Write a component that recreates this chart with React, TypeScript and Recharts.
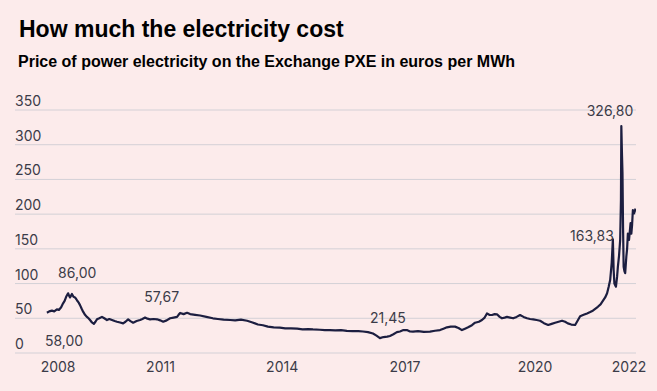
import { LineChart, Line, XAxis, YAxis, CartesianGrid, LabelList } from 'recharts'

// decimal year positions along the time axis and the price (EUR/MWh)
const dates = [
  2007.66, 2007.72, 2007.79, 2007.85, 2007.92, 2007.97, 2008.03, 2008.08, 2008.12, 2008.16,
  2008.21, 2008.24, 2008.26, 2008.29, 2008.31, 2008.35, 2008.39, 2008.44, 2008.48, 2008.52,
  2008.56, 2008.6, 2008.65, 2008.7, 2008.74, 2008.78, 2008.83, 2008.88, 2008.92, 2008.96,
  2009.02, 2009.09, 2009.15, 2009.22, 2009.28, 2009.35, 2009.42, 2009.48, 2009.56, 2009.64,
  2009.7, 2009.77, 2009.83, 2009.9, 2009.99, 2010.08, 2010.14, 2010.21, 2010.27, 2010.34,
  2010.43, 2010.52, 2010.6, 2010.68, 2010.77, 2010.86, 2010.95, 2011.04, 2011.08, 2011.12,
  2011.21, 2011.3, 2011.38, 2011.51, 2011.64, 2011.8, 2011.97, 2012.1, 2012.25, 2012.42,
  2012.55, 2012.7, 2012.86, 2013.0, 2013.14, 2013.27, 2013.4, 2013.55, 2013.71, 2013.85,
  2014.0, 2014.16, 2014.3, 2014.45, 2014.57, 2014.75, 2014.88, 2015.01, 2015.15, 2015.3,
  2015.45, 2015.6, 2015.75, 2015.87, 2016.0, 2016.13, 2016.22, 2016.31, 2016.4, 2016.5,
  2016.57, 2016.66, 2016.75, 2016.83, 2016.92, 2017.01, 2017.09, 2017.17, 2017.3, 2017.45,
  2017.61, 2017.74, 2017.87, 2017.96, 2018.05, 2018.15, 2018.26, 2018.35, 2018.44, 2018.52,
  2018.6, 2018.7, 2018.78, 2018.88, 2018.96, 2019.03, 2019.09, 2019.15, 2019.22, 2019.29,
  2019.35, 2019.42, 2019.48, 2019.55, 2019.61, 2019.69, 2019.77, 2019.86, 2019.95, 2020.04,
  2020.13, 2020.21, 2020.29, 2020.38, 2020.47, 2020.57, 2020.68, 2020.77, 2020.86, 2020.95,
  2021.04, 2021.12, 2021.19, 2021.28, 2021.38, 2021.44, 2021.51, 2021.6, 2021.69, 2021.77,
  2021.84, 2021.91, 2021.97, 2022.04, 2022.1, 2022.16, 2022.21, 2022.25, 2022.29, 2022.33,
  2022.36, 2022.38, 2022.4, 2022.44, 2022.47, 2022.49, 2022.52, 2022.55, 2022.57, 2022.58,
  2022.595, 2022.61, 2022.625, 2022.64, 2022.66, 2022.68, 2022.71, 2022.73, 2022.75, 2022.78,
  2022.8, 2022.82, 2022.84, 2022.86, 2022.88, 2022.91, 2022.95,
]

const prices = [
  58, 60, 61, 60, 63, 62, 66, 71.5, 75, 81,
  86, 82, 80, 83, 85, 81, 80, 76, 73, 69,
  64, 59.5, 55, 52, 50, 47.5, 44, 42, 45, 48.5,
  50, 52, 50, 47.5, 49, 47.5, 46, 45, 44, 42.7,
  45, 48.5, 46, 43.6, 46, 47.5, 49, 51, 49.5, 48.5,
  49, 48.5, 47, 45, 47, 50, 51, 52, 55, 57.67,
  56, 58, 56, 55, 54, 52, 50, 49, 48, 47.5,
  47, 48, 46.5, 44, 41, 40, 38, 37, 36.5, 35.5,
  35.5, 35, 34, 34.5, 34, 33.5, 33, 33, 32.5, 33,
  32, 31.5, 31.5, 31, 30, 28, 25, 21.45, 23, 23.5,
  24.5, 27, 30, 31, 33, 33, 31, 30.7, 31.5, 30.5,
  30.7, 32, 33, 35, 37, 38, 38, 36, 33, 35,
  37, 40, 43.6, 45, 47.5, 51, 57, 55, 54.7, 56,
  55.7, 52, 50, 51, 52, 51, 50, 52, 54.7, 52,
  50, 49, 48.5, 47.5, 46.5, 43, 40.3, 42, 43.6, 45,
  46.5, 45, 42.7, 41, 40.3, 46, 53, 55, 57, 59,
  61, 64, 66.6, 70, 75, 80, 86, 95, 105, 130,
  163.83, 120, 100, 95.5, 110, 124, 140, 163, 220, 326.8,
  290, 259, 180, 124, 118, 115, 139, 150, 172, 163,
  175, 187, 172, 185, 206, 201, 208,
]

// the points that carry a printed label
const noteDates = [2007.66, 2008.21, 2011.12, 2016.31, 2022.36, 2022.58]
const noteTexts = ['58,00', '86,00', '57,67', '21,45', '163,83', '326,80']

const tickPos = [2007.95, 2010.61, 2013.77, 2016.96, 2020.34, 2022.78]
const tickLabels = ['2008', '2011', '2014', '2017', '2020', '2022']
const yTicks = [0, 50, 100, 150, 200, 250, 300, 350]

// label placement relative to its point: [dx, dy, anchor]
const notePlacement: Record<string, [number, number, string]> = {
  '58,00': [-2, 33, 'start'],
  '86,00': [-10, -15, 'start'],
  '57,67': [-36, -11, 'start'],
  '21,45': [-10, -15, 'start'],
  '163,83': [1, 1.5, 'end'],
  '326,80': [12, -10, 'end'],
}

const data = dates.map((t, i) => {
  const k = noteDates.indexOf(t)
  return { t, price: prices[i], note: k >= 0 ? noteTexts[k] : undefined }
})

const TEXT = '#3b3b48'
const LINE = '#1c1e40'
const BG = '#fcebeb'
const FONT = 'Inter, "DejaVu Sans", sans-serif'

function YTick(props: any) {
  const { y, payload } = props
  return (
    <text x={15} y={y - 4} fill={TEXT} fontSize={14} fontFamily={FONT} textAnchor="start">
      {payload.value}
    </text>
  )
}

function NoteLabel({ x, y, value }: any) {
  if (!value) return null
  const [dx, dy, anchor] = notePlacement[value]
  return (
    <text x={x + dx} y={y + dy} fill={TEXT} fontSize={14} fontFamily={FONT} textAnchor={anchor}>
      {value}
    </text>
  )
}

export default function App() {
  return (
    <div style={{ position: 'absolute', left: 0, top: 0, width: 657, height: 391, background: BG, overflow: 'hidden' }}>
      <div
        style={{
          position: 'absolute', left: 19, top: 18, fontSize: 23, lineHeight: '23px',
          fontWeight: 700, fontFamily: '"Liberation Sans", Arial, sans-serif', color: '#000',
          whiteSpace: 'nowrap',
        }}
      >
        How much the electricity cost
      </div>
      <div
        style={{
          position: 'absolute', left: 18, top: 54, fontSize: 16, lineHeight: '16px',
          fontWeight: 700, fontFamily: '"Liberation Sans", Arial, sans-serif', color: '#000',
          whiteSpace: 'nowrap',
        }}
      >
        Price of power electricity on the Exchange PXE in euros per MWh
      </div>
      <div style={{ position: 'absolute', left: 0, top: 0 }}>
        <LineChart
          width={657}
          height={391}
          data={data}
          margin={{ top: 110, right: 21, bottom: 8, left: 14 }}
        >
          <CartesianGrid stroke="#d3d0d6" vertical={false} />
          <XAxis
            type="number"
            dataKey="t"
            domain={[2006.831, 2022.961]}
            allowDataOverflow
            ticks={tickPos}
            interval={0}
            tickFormatter={(v: number) => tickLabels[tickPos.indexOf(v)]}
            tick={{ fill: TEXT, fontSize: 14, fontFamily: FONT }}
            axisLine={false}
            tickLine={false}
            tickMargin={3}
            height={30}
          />
          <YAxis
            type="number"
            domain={[0, 350]}
            ticks={yTicks}
            interval={0}
            width={1}
            axisLine={false}
            tickLine={false}
            tick={(p: any) => <YTick {...p} />}
          />
          <Line
            type="linear"
            dataKey="price"
            stroke={LINE}
            strokeWidth={2.2}
            strokeLinejoin="round"
            dot={false}
            isAnimationActive={false}
          >
            <LabelList dataKey="note" content={(p: any) => <NoteLabel {...p} />} />
          </Line>
        </LineChart>
      </div>
    </div>
  )
}
